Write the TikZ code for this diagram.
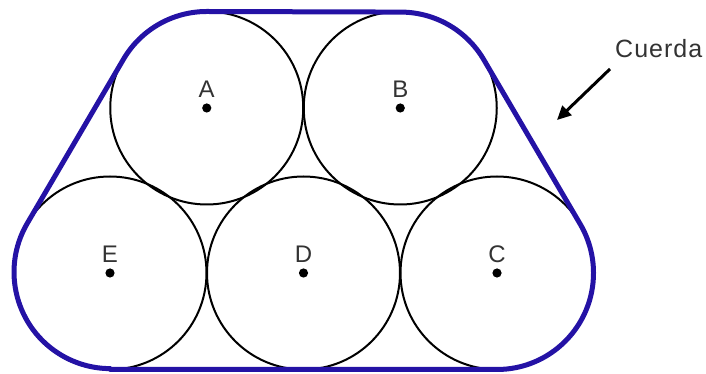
\documentclass[tikz,border=0pt]{standalone}
\usepackage{fontspec}
\setmainfont{Liberation Sans}
\usetikzlibrary{arrows.meta,calc}
\definecolor{ropeblue}{RGB}{36,18,165}

\begin{document}
\begin{tikzpicture}[
    x=1pt, y=1pt,
    roll/.style={draw, circle, line width=2pt, minimum size=193pt, inner sep=0pt, outer sep=0pt},
    tag/.style={font=\fontsize{24}{28}\selectfont, text=black!80, inner sep=0pt},
    rope/.style={draw=ropeblue, line width=5pt, line join=round},
    pointer/.style={-{Triangle[length=14pt,width=13pt]}, line width=3pt}
]
\useasboundingbox (0,0) rectangle (706,374);

\node[roll] (E) at (110,101) {};
\node[roll] (D) at (303.5,101) {};
\node[roll] (C) at (497,101) {};
\node[roll] (A) at (206.75,266) {};
\node[roll] (B) at (400.25,266) {};

\foreach \n in {A,B,C,D,E}{
    \fill (\n.center) circle[radius=4.6];
    \node[tag, anchor=south] (lab\n) at ([yshift=10pt]\n.center) {\n};
}

\draw[rope] (E.south) -- (C.south)
    arc[start angle=-90, end angle=30.4, radius=96.5] -- (B.30.4)
    arc[start angle=30.4, end angle=90, radius=96.5] -- (A.north)
    arc[start angle=90, end angle=149.6, radius=96.5] -- (E.149.6)
    arc[start angle=149.6, end angle=270, radius=96.5] -- cycle;

\node[tag, anchor=base west, font=\fontsize{25}{29}\selectfont\addfontfeature{LetterSpace=4}] (cuerda) at (615,316) {Cuerda};
\coordinate (tip) at (557,254);
\draw[pointer] ([xshift=-5pt,yshift=-11pt]cuerda.base west) -- (tip);
\end{tikzpicture}
\end{document}
